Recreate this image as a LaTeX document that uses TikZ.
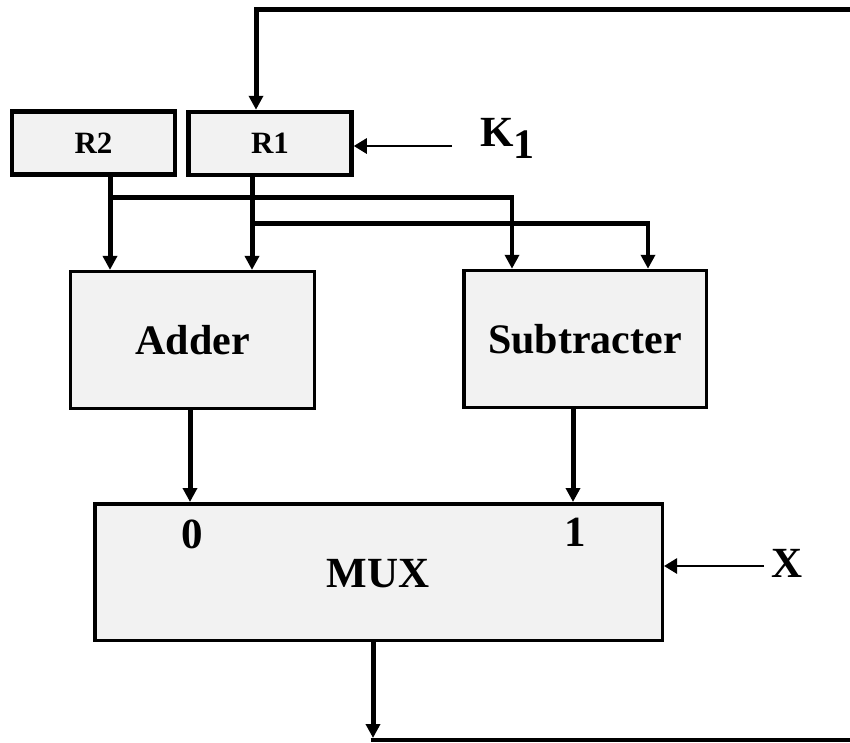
\documentclass[tikz,border=0pt]{standalone}
\usepackage{fontspec}
\setmainfont{Liberation Serif}
\usetikzlibrary{arrows.meta}
\definecolor{boxfill}{gray}{0.95}
\begin{document}
\begin{tikzpicture}[x=1pt,y=-1pt,
  reg/.style={draw=black, fill=boxfill, line width=4.5pt, outer sep=2.25pt, inner sep=0pt,
    minimum width=163pt, minimum height=63pt, font=\fontsize{31}{36}\selectfont\bfseries},
  unit/.style={draw=black, fill=boxfill, line width=3.2pt, outer sep=1.6pt, inner sep=0pt,
    minimum width=244pt, minimum height=137pt, font=\fontsize{42}{48}\selectfont\bfseries},
  lbl/.style={font=\fontsize{43}{48}\selectfont\bfseries, inner sep=0pt},
  wire/.style={line width=5pt},
  arr/.style={wire, -{Triangle[length=14pt,width=14pt]}},
  thinarr/.style={line width=2.8pt, -{Triangle[length=13pt,width=15pt]}}]
\useasboundingbox (0,0) rectangle (850,742);

% boxes
\node[reg] (R2) at (93.5,143) {R2};
\node[reg] (R1) at (270,143.5) {R1};
\node[unit] (Add) at (192.5,340) {Adder};
\node[unit, minimum width=242.5pt, line width=3.5pt, outer sep=1.75pt] (Sub) at (585,339) {Subtracter};
\node[unit, minimum width=567.5pt, minimum height=136.5pt, line width=3.5pt, outer sep=1.75pt] (MUX) at (378.5,572) {};
\node[lbl] (MUXt) at (378,573.5) {MUX};
\node[lbl] (in0) at (192,534.5) {0};
\node[lbl] (in1) at (575,532.5) {1};
\node[lbl, anchor=base west] (K) at (480,146) {K\raisebox{-12pt}{\fontsize{42}{48}\selectfont 1}};
\node[lbl, anchor=base west] (X) at (771,577) {X};

% coordinates
\coordinate (fbT) at (850,9.5);
\coordinate (fbB) at (373,740);
\coordinate (fbBE) at (850,740);
\coordinate (j2) at (110,197.5);
\coordinate (j1) at (252,223.5);
\coordinate (kin) at (452,146);
\coordinate (xin) at (764,566);

% feedback into R1
\draw[arr] (fbT) -| ([xshift=-14pt]R1.north);

% R2 outputs
\draw[arr] ([xshift=16.5pt]R2.south) -- ([xshift=16.5pt]R2.south |- Add.north);
\draw[arr, line width=4.5pt] (j2) -| ([xshift=-73pt]Sub.north);

% R1 outputs
\draw[arr] ([xshift=-18pt]R1.south) -- ([xshift=-18pt]R1.south |- Add.north);
\draw[arr, line width=4.5pt] (j1) -| ([xshift=63pt]Sub.north);

% to MUX
\draw[arr] ([xshift=-2.5pt]Add.south) -- ([xshift=-2.5pt]Add.south |- MUX.north);
\draw[arr] ([xshift=-12pt]Sub.south) -- ([xshift=-12pt]Sub.south |- MUX.north);

% MUX output feedback
\draw[arr] ([xshift=-5.5pt]MUX.south) -- ([yshift=2pt]fbB);
\draw[wire, line width=4.5pt] ([xshift=-2.5pt]fbB) -- (fbBE);

% control inputs
\draw[thinarr] (kin) -- (kin -| R1.east);
\draw[thinarr] (xin) -- (xin -| MUX.east);
\end{tikzpicture}
\end{document}
